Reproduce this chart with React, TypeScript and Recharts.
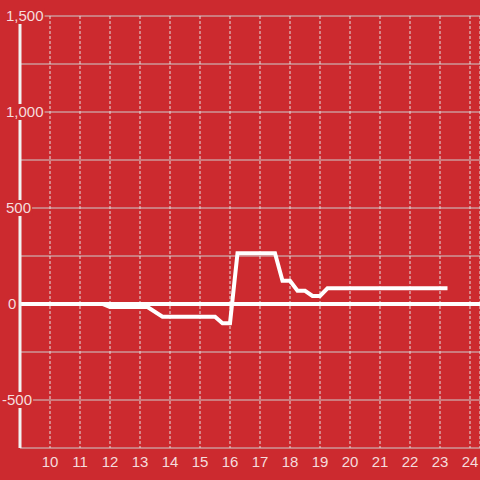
import { LineChart, Line, XAxis, YAxis, CartesianGrid, ReferenceLine } from "recharts";

const hours = [9, 11.75, 12, 13.25, 13.75, 15.5, 15.75, 16, 16.25, 17.5, 17.75, 18, 18.25, 18.5, 18.75, 19, 19.25, 23.25];
const values = [0, 0, -16, -16, -66, -66, -100, -100, 264, 264, 121, 121, 69, 69, 42, 42, 82, 82];

const xTicks = [10, 11, 12, 13, 14, 15, 16, 17, 18, 19, 20, 21, 22, 23, 24];
const yTicks = [-750, -500, -250, 0, 250, 500, 750, 1000, 1250, 1500];

const data = hours.map((h, i) => ({ x: h, v: values[i] }));

const BG = "#cc2a2f";
const TEXT = "#f5dcdd";
const FONT = '"Liberation Sans", Arial, sans-serif';

function YTick(props: any) {
  const { y, payload } = props;
  const val = payload.value as number;
  // only every 500 gets a label
  if (val % 500 !== 0) return null;
  const label = val.toLocaleString("en-US");
  let w = 0;
  for (const c of label) w += c === "," ? 4.2 : c === "-" ? 5 : 8.35;
  const left = val < 0 ? 2 : val === 0 ? 8 : 6;
  return (
    <g>
      <rect x={left - 1} y={y - 8} width={w + 2} height={16} fill={BG} />
      <text x={left} y={y} dy="0.36em" textAnchor="start" fill={TEXT} fontSize={15} fontFamily={FONT}>
        {label}
      </text>
    </g>
  );
}

export default function App() {
  return (
    <div style={{ position: "absolute", left: 0, top: 0, width: 480, height: 480, background: BG }}>
      <LineChart width={480} height={480} data={data} margin={{ top: 16, right: 0, left: 0, bottom: 0 }}>
        <CartesianGrid vertical={false} stroke="#cdcdcd" strokeWidth={1} />
        <CartesianGrid horizontal={false} stroke="#e2e2e2" strokeDasharray="3 2" strokeWidth={1} />
        <XAxis
          type="number"
          dataKey="x"
          domain={[9, 24.3333]}
          ticks={xTicks}
          allowDataOverflow
          axisLine={false}
          tickLine={false}
          height={32}
          tick={{ fill: TEXT, fontSize: 15, fontFamily: FONT }}
        />
        <YAxis
          type="number"
          domain={[-750, 1500]}
          ticks={yTicks}
          width={20}
          axisLine={{ stroke: "#f2f2f2", strokeWidth: 3 }}
          tickLine={false}
          tick={<YTick />}
        />
        <ReferenceLine y={0} stroke="#ffffff" strokeWidth={4} />
        <Line
          type="linear"
          dataKey="v"
          stroke="#ffffff"
          strokeWidth={4}
          strokeLinejoin="miter"
          dot={false}
          isAnimationActive={false}
        />
      </LineChart>
    </div>
  );
}
